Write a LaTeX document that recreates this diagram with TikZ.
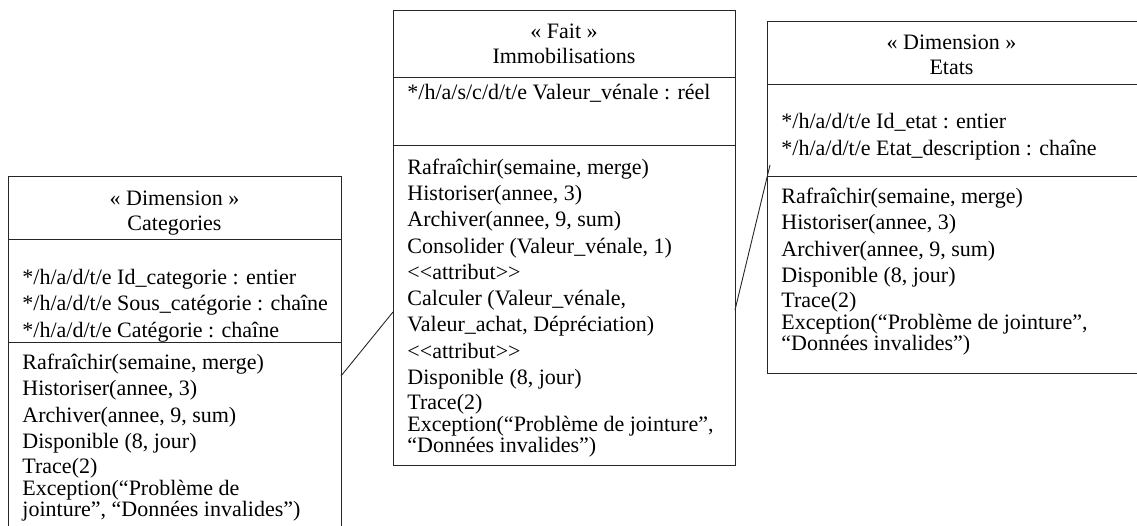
\documentclass[tikz,border=0pt]{standalone}
\usepackage{fontspec}
\setmainfont{Liberation Serif}

\begin{document}
\begin{tikzpicture}[x=1pt,y=-1pt,line width=0.9pt,draw=black!85,
    classbox/.style={draw,anchor=north west,inner sep=0pt,outer sep=0pt},
    umltitle/.style={inner sep=0pt,anchor=base,align=center,font=\fontsize{22}{25}\selectfont},
    umltext/.style={inner sep=0pt,anchor=base west,align=left,font=\fontsize{22}{21}\selectfont}]
                \useasboundingbox (0,0) rectangle (1137,525);
                % les trois classes
                \node[classbox,minimum width=333pt,minimum height=370pt] (cat) at (8,176) {};
                \node[classbox,minimum width=342pt,minimum height=455pt] (fait) at (393,10) {};
                \node[classbox,minimum width=376pt,minimum height=352pt] (etats) at (767,21) {};
                \draw (8,239)--(341,239);
                \draw (8,342)--(341,342);
                \draw (393,77)--(735,77);
                \draw (393,145)--(735,145);
                \draw (767,84)--(1143,84);
                \draw (767,176)--(1143,176);
                % Categories (ancre = ligne de base de la derniere ligne)
                \node[umltitle] (cattitle) at (174.5,230) {« Dimension »\\Categories};
                \node[umltext] (catattr) at (22,337) {*/h/a/d/t/e Id\_categorie : entier\\[5.3pt]
                    */h/a/d/t/e Sous\_catégorie : chaîne\\[5.3pt]
                    */h/a/d/t/e Catégorie : chaîne};
                \node[umltext] (catops) at (22,516) {Rafraîchir(semaine, merge)\\[5.3pt]
                    Historiser(annee, 3)\\[5.3pt]
                    Archiver(annee, 9, sum)\\[5.3pt]
                    Disponible (8, jour)\\[4pt]
                    Trace(2)\\[0.5pt]
                    Exception(“Problème de\\
                    jointure”, “Données invalides”)};
                % Immobilisations
                \node[umltitle] (faittitle) at (564,63) {« Fait »\\Immobilisations};
                \node[umltext] (faitattr) at (407,99) {*/h/a/s/c/d/t/e Valeur\_vénale : réel};
                \node[umltext] (faitops) at (407,452) {Rafraîchir(semaine, merge)\\[5.3pt]
                    Historiser(annee, 3)\\[5.3pt]
                    Archiver(annee, 9, sum)\\[5.3pt]
                    Consolider (Valeur\_vénale, 1)\\[5.3pt]
                    <{}<attribut>{}>\\[5.3pt]
                    Calculer (Valeur\_vénale,\\[5.3pt]
                    Valeur\_achat, Dépréciation)\\[5.3pt]
                    <{}<attribut>{}>\\[5.3pt]
                    Disponible (8, jour)\\[4pt]
                    Trace(2)\\[0.5pt]
                    Exception(“Problème de jointure”,\\
                    “Données invalides”)};
                % Etats
                \node[umltitle] (etatstitle) at (951.5,74) {« Dimension »\\Etats};
                \node[umltext] (etatsattr) at (781,155) {*/h/a/d/t/e Id\_etat : entier\\[5.3pt]
                    */h/a/d/t/e Etat\_description : chaîne};
                \node[umltext] (etatsops) at (781,350) {Rafraîchir(semaine, merge)\\[5.3pt]
                    Historiser(annee, 3)\\[5.3pt]
                    Archiver(annee, 9, sum)\\[5.3pt]
                    Disponible (8, jour)\\[4pt]
                    Trace(2)\\[0.5pt]
                    Exception(“Problème de jointure”,\\
                    “Données invalides”)};
                % liens
                \draw ([yshift=-200pt]cat.north east)--([yshift=-302pt]fait.north west);
                \draw ([yshift=-300pt]fait.north east)--([xshift=3pt,yshift=-144pt]etats.north west);
            \end{tikzpicture}
\end{document}
